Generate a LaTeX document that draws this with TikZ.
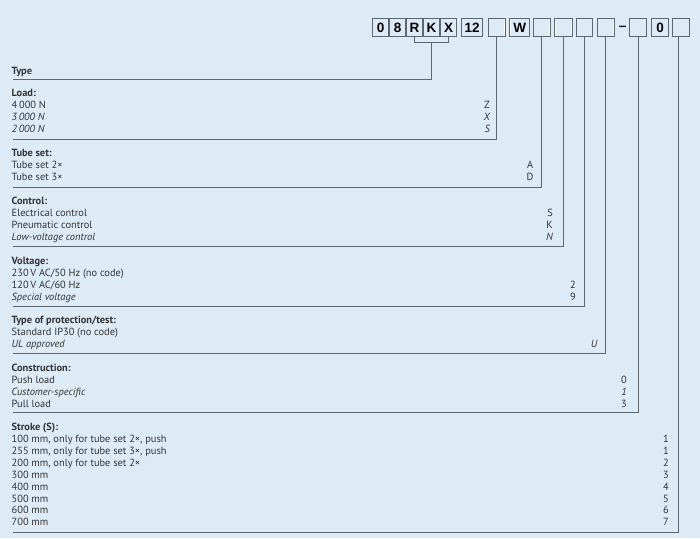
\documentclass[tikz,border=0pt]{standalone}
\usepackage{fontspec}
\setmainfont{PT Sans}
\newfontfamily\boxfont{Liberation Sans}
\usetikzlibrary{positioning}

\definecolor{bgblue}{HTML}{DDEBF7}
\definecolor{rulegray}{HTML}{5E676E}
\definecolor{textgray}{HTML}{333333}

\tikzset{
	codebox/.style={draw=rulegray, line width=0.8pt, fill=bgblue, minimum width=17.2pt, minimum height=18.4pt, inner sep=0pt,
		font=\boxfont\bfseries\fontsize{13.5}{14}\selectfont,
		path picture={\draw[white, line width=2pt] (path picture bounding box.south west) rectangle (path picture bounding box.north east);}},
	entry/.style={anchor=base west, inner sep=0pt, text=textgray, font=\fontsize{10.4}{12}\selectfont},
	head/.style={entry, font=\bfseries\fontsize{10.4}{12}\selectfont},
	code/.style={anchor=base east, inner sep=0pt, text=textgray, font=\fontsize{10.4}{12}\selectfont},
	leader/.style={draw=rulegray, line width=0.9pt}
}

\begin{document}
\begin{tikzpicture}[x=1pt, y=-1pt]

	\fill[bgblue] (0,0) rectangle (700,538);

	% Typekode
	\node [codebox, minimum width=16.2pt] (c0) at (380.5,27.5) {0};
	\node [codebox, minimum width=16.2pt] (c8) at (397.5,27.5) {8};
	\node [codebox, minimum width=16.2pt] (cR) at (414.5,27.5) {R};
	\node [codebox, minimum width=16.2pt] (cK) at (431.5,27.5) {K};
	\node [codebox, minimum width=16.2pt] (cX) at (448.5,27.5) {X};
	\node [codebox, minimum width=21.2pt] (c12) at (472,27.5) {12};
	\node [codebox, minimum width=16.7pt] (load) at (496.7,27.5) {};
	\node [codebox, minimum width=20pt] (cW) at (519.7,27.5) {W};
	\node [codebox] (tube) at (541.5,27.5) {};
	\node [codebox] (ctrl) at (563.3,27.5) {};
	\node [codebox, minimum width=16.2pt] (volt) at (584.5,27.5) {};
	\node [codebox] (prot) at (605.7,27.5) {};
	\node [inner sep=0pt, font=\boxfont\bfseries\fontsize{13.5}{14}\selectfont] (dash) at (622.5,28.5) {–};
	\node [codebox] (constr) at (638,27.5) {};
	\node [codebox] (c0b) at (660,27.5) {0};
	\node [codebox] (stroke) at (681,27.5) {};

	% Linjer
	\draw [leader] (cR.south) -- ++(0,5) -| (cX.south);
	\coordinate (brace) at (cK.south |- 0,42.5);
	\draw [leader] (brace) |- (13,79);
	\draw [leader] (load.south) |- (13,139);
	\draw [leader] (tube.south) |- (13,187);
	\draw [leader] (ctrl.south) |- (13,246.5);
	\draw [leader] (volt.south) |- (13,306);
	\draw [leader] (prot.south) |- (13,353.5);
	\draw [leader] (constr.south) |- (13,412.8);
	\draw [leader] ([xshift=-3pt]stroke.south) |- (13,532);

	% Tekst
	\node [head] (type) at (11.5,74) {Type};

	\node [head]  (loadh) at (11.5,96.7) {Load:};
	\node [entry] (load1) at (11.5,108.7) {4\,000 N};
	\node [entry] (load2) at (11.5,120.7) {\itshape 3\,000 N};
	\node [entry] (load3) at (11.5,132.7) {\itshape 2\,000 N};
	\node [code] (loadZ) at (490,108.7) {Z};
	\node [code] (loadX) at (490,120.7) {\itshape X};
	\node [code] (loadS) at (490,132.7) {\itshape S};

	\node [head]  (tubeh) at (11.5,156.7) {Tube set:};
	\node [entry] (tube1) at (11.5,168.7) {Tube set 2×};
	\node [entry] (tube2) at (11.5,180.7) {Tube set 3×};
	\node [code] (tubeA) at (533.5,168.7) {A};
	\node [code] (tubeD) at (533.5,180.7) {D};

	\node [head]  (ctrlh) at (11.5,204.5) {Control:};
	\node [entry] (ctrl1) at (11.5,216.5) {Electrical control};
	\node [entry] (ctrl2) at (11.5,228.5) {Pneumatic control};
	\node [entry] (ctrl3) at (11.5,240.5) {\itshape Low-voltage control};
	\node [code] (ctrlS) at (553,216.5) {S};
	\node [code] (ctrlK) at (553,228.5) {K};
	\node [code] (ctrlN) at (553,240.5) {\itshape N};

	\node [head]  (volth) at (11.5,264) {Voltage:};
	\node [entry] (volt1) at (11.5,276) {230\,V AC/50 Hz (no code)};
	\node [entry] (volt2) at (11.5,288) {120\,V AC/60 Hz};
	\node [entry] (volt3) at (11.5,300) {\itshape Special voltage};
	\node [code] (volt2c) at (576,288) {2};
	\node [code] (volt9c) at (576,300) {9};

	\node [head]  (proth) at (11.5,323.7) {Type of protection/test:};
	\node [entry] (prot1) at (11.5,335.7) {Standard IP30 (no code)};
	\node [entry] (prot2) at (11.5,347.7) {\itshape UL approved};
	\node [code] (protU) at (597.5,347.7) {\itshape U};

	\node [head]  (constrh) at (11.5,371) {Construction:};
	\node [entry] (constr1) at (11.5,383) {Push load};
	\node [entry] (constr2) at (11.5,395) {\itshape Customer-specific};
	\node [entry] (constr3) at (11.5,407) {Pull load};
	\node [code] (constr0) at (627,383) {0};
	\node [code] (constr1c) at (627,395) {\itshape 1};
	\node [code] (constr3c) at (627,407) {3};

	\node [head]  (strokeh) at (11.5,430.5) {Stroke (S):};
	\node [entry] (stroke1) at (11.5,442.5) {100 mm, only for tube set 2×, push};
	\node [entry] (stroke2) at (11.5,454.4) {255 mm, only for tube set 3×, push};
	\node [entry] (stroke3) at (11.5,466.3) {200 mm, only for tube set 2×};
	\node [entry] (stroke4) at (11.5,478.2) {300 mm};
	\node [entry] (stroke5) at (11.5,490.1) {400 mm};
	\node [entry] (stroke6) at (11.5,502) {500 mm};
	\node [entry] (stroke7) at (11.5,513.9) {600 mm};
	\node [entry] (stroke8) at (11.5,525.8) {700 mm};
	\node [code] (stroke1c) at (669,442.5) {1};
	\node [code] (stroke2c) at (669,454.4) {1};
	\node [code] (stroke3c) at (669,466.3) {2};
	\node [code] (stroke4c) at (669,478.2) {3};
	\node [code] (stroke5c) at (669,490.1) {4};
	\node [code] (stroke6c) at (669,502) {5};
	\node [code] (stroke7c) at (669,513.9) {6};
	\node [code] (stroke8c) at (669,525.8) {7};

\end{tikzpicture}
\end{document}
